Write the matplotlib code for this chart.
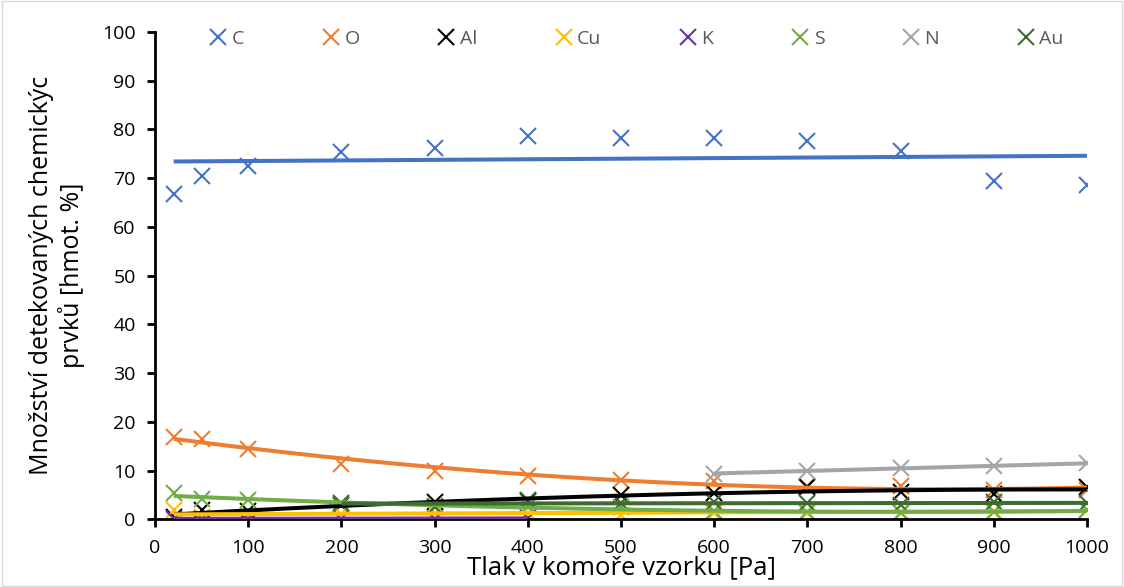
import matplotlib.pyplot as plt
import matplotlib as mpl
from matplotlib.lines import Line2D
import numpy as np

# tlak [Pa]
tlak = [20, 50, 100, 200, 300, 400, 500, 600, 700, 800, 900, 1000]

C = [66.8, 70.4, 72.5, 75.3, 76.2, 78.6, 78.2, 78.2, 77.7, 75.6, 69.5, 68.6]
O = [17.0, 16.5, 14.5, 11.4, 10.0, 9.0, 8.2, 7.8, 6.9, 6.8, 6.1, 6.0]
Al = [0.5, 2.0, 1.8, 3.0, 3.5, 3.8, 5.0, 5.4, 6.7, 5.7, 5.2, 6.7]
Cu = [2.0, 0.6, 0.8, 1.2, 1.3, 1.4, 0.9, 1.3, 1.4, 1.6, 1.8, 2.0]
tlak_K = [20, 50, 100, 200, 300, 400]
K = [0.2, 0.1, 0.1, 0.2, 0.1, 0.3]
S = [5.5, 4.2, 4.0, 3.1, 2.8, 2.7, 2.5, 1.8, 1.5, 1.4, 1.5, 1.9]
tlak_N = [600, 700, 800, 900, 1000]
N = [9.4, 10.0, 10.5, 11.0, 11.5]
tlak_Au = [200, 300, 400, 500, 600, 700, 800, 900, 1000]
Au = [3.3, 2.6, 4.0, 3.3, 3.5, 3.4, 3.0, 3.6, 3.3]

prvky = ['C', 'O', 'Al', 'Cu', 'K', 'S', 'N', 'Au']
barvy = ['#4472C4', '#ED7D31', '#000000', '#FFC000', '#7030A0', '#70AD47', '#A5A5A5', '#3E6B2F']
xdata = [tlak, tlak, tlak, tlak, tlak_K, tlak, tlak_N, tlak_Au]
ydata = [C, O, Al, Cu, K, S, N, Au]
stupen = [1, 2, 2, 1, 1, 2, 1, 1]

plt.rcParams['font.family'] = ['Open Sans', 'DejaVu Sans']

fig = plt.figure(figsize=(11.24, 5.87), dpi=100)
ax = fig.add_axes([0.138, 0.115, 0.829, 0.8305])

for x, y, c, d in zip(xdata, ydata, barvy, stupen):
    x = np.array(x, dtype=float)
    y = np.array(y, dtype=float)
    ax.plot(x, y, linestyle='none', marker='x', color=c, markersize=12, markeredgewidth=1.5, zorder=2)
    p = np.polyfit(x, y, d)
    xs = np.linspace(x.min(), x.max(), 200)
    ax.plot(xs, np.polyval(p, xs), color=c, linewidth=2.9, zorder=3, solid_capstyle='butt')

ax.set_xlim(0, 1000)
ax.set_ylim(0, 100)
ax.set_xticks(np.arange(0, 1001, 100))
ax.set_yticks(np.arange(0, 101, 10))
for s in ['top', 'right']:
    ax.spines[s].set_visible(False)
for s in ['left', 'bottom']:
    ax.spines[s].set_linewidth(2)
ax.tick_params(axis='both', width=2, length=6, labelsize=14, pad=8)
ax.set_xlabel('Tlak v komoře vzorku [Pa]', fontsize=18.5, labelpad=-1)
ax.set_ylabel('Množství detekovaných chemickýc\nprvků [hmot. %]', fontsize=18, labelpad=12)

handles = [Line2D([], [], linestyle='none', marker='x', color=c, markersize=11, markeredgewidth=1.5) for c in barvy]
leg = ax.legend(handles, prvky, loc='upper center', bbox_to_anchor=(0.515, 1.04), ncol=8, frameon=False,
                fontsize=14, columnspacing=3.85, handletextpad=0.1, handlelength=1.2)
for t in leg.get_texts():
    t.set_color('#595959')

fig.patches.append(mpl.patches.Rectangle((0.002, 0.002), 0.996, 0.996, transform=fig.transFigure,
                                         fill=False, edgecolor='#D9D9D9', linewidth=1))

plt.savefig('out.png', dpi=100)
